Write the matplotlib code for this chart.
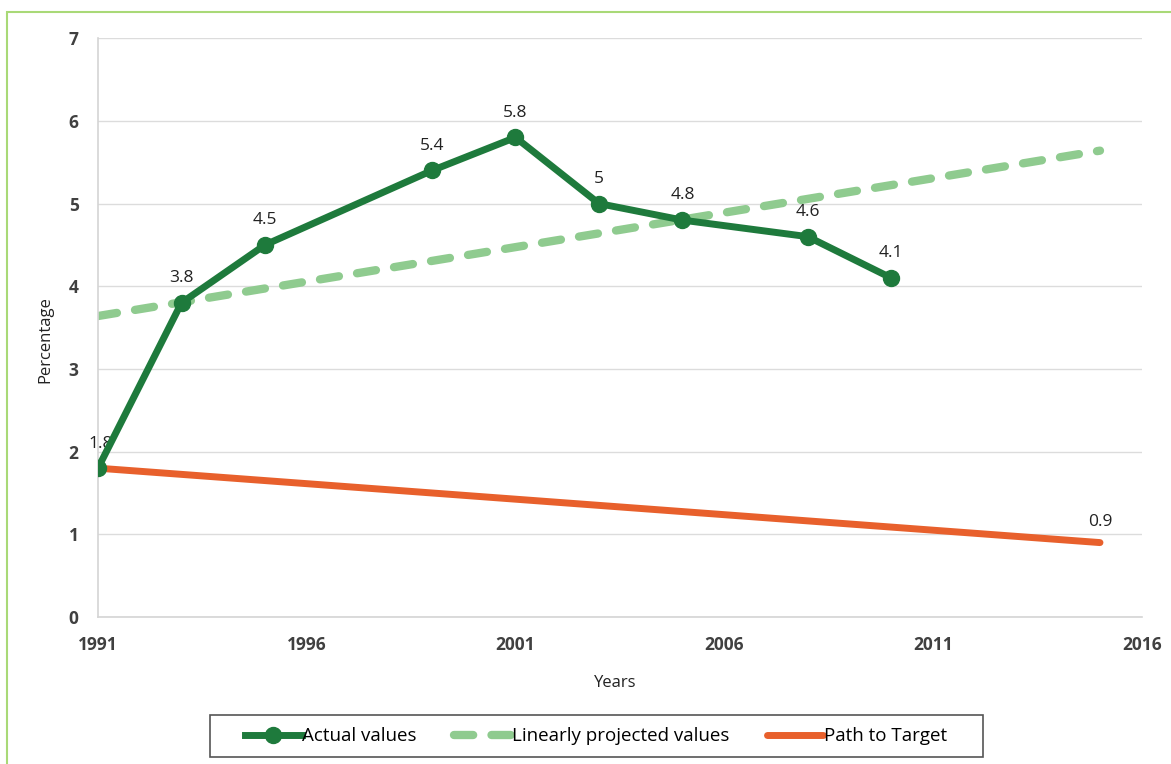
import matplotlib.pyplot as plt
import matplotlib.patches as patches

# data
actual_years = [1991, 1993, 1995, 1999, 2001, 2003, 2005, 2008, 2010]
actual_values = [1.8, 3.8, 4.5, 5.4, 5.8, 5.0, 4.8, 4.6, 4.1]
actual_labels = ['1.8', '3.8', '4.5', '5.4', '5.8', '5', '4.8', '4.6', '4.1']

proj_years = [1991, 2015]
proj_values = [3.64, 5.64]

target_years = [1991, 2015]
target_values = [1.8, 0.9]

x_ticks = [1991, 1996, 2001, 2006, 2011, 2016]
y_ticks = [0, 1, 2, 3, 4, 5, 6, 7]

dark_green = '#1e7a3c'
light_green = '#8fcb8f'
orange = '#e8602c'
text_color = '#404040'

plt.rcParams['font.family'] = ['Open Sans', 'DejaVu Sans']

fig = plt.figure(figsize=(11.71, 7.64), dpi=100)
ax = fig.add_axes([0.0837, 0.1924, 0.8913, 0.7576])

# outer light green frame
fig.patches.append(patches.Rectangle((0.006, -0.01), 1.0, 0.994,
                                     transform=fig.transFigure, fill=False,
                                     edgecolor='#a9d977', linewidth=1.5))
# legend box, drawn by hand so it can be wider than the legend entries
fig.patches.append(patches.Rectangle((210 / 1171, 1 - 757 / 764), 773 / 1171, 42 / 764,
                                     transform=fig.transFigure, fill=False,
                                     edgecolor='#555555', linewidth=1.2))

ax.plot(proj_years, proj_values, color=light_green, linewidth=6,
        linestyle=(0, (2.3, 2.2)), dash_capstyle='round',
        label='Linearly projected values', zorder=2)
ax.plot(target_years, target_values, color=orange, linewidth=5,
        solid_capstyle='round', label='Path to Target', zorder=3)
ax.plot(actual_years, actual_values, color=dark_green, linewidth=5,
        marker='o', markersize=11.5, label='Actual values', zorder=4)

for x, y, s in zip(actual_years, actual_values, actual_labels):
    dx = 2 if x == 1991 else 0
    ax.annotate(s, (x, y), xytext=(dx, 12), textcoords='offset points',
                ha='center', va='bottom', fontsize=12.5, color='#222222')
ax.annotate('0.9', (target_years[-1], target_values[-1]), xytext=(0, 9),
            textcoords='offset points', ha='center', va='bottom',
            fontsize=12.5, color='#222222')

ax.set_xlim(1991, 2016)
ax.set_ylim(0, 7)
ax.set_xticks(x_ticks)
ax.set_yticks(y_ticks)
ax.tick_params(length=0, labelsize=12.5, labelcolor=text_color)
ax.xaxis.set_tick_params(pad=14)
ax.yaxis.set_tick_params(pad=14)
for lbl in ax.get_xticklabels() + ax.get_yticklabels():
    lbl.set_fontweight('bold')
ax.grid(axis='y', color='#dcdcdc', linewidth=1)
ax.set_axisbelow(True)
for side in ['top', 'right']:
    ax.spines[side].set_visible(False)
for side in ['left', 'bottom']:
    ax.spines[side].set_color('#d4d4d4')
    ax.spines[side].set_linewidth(1.2)

ax.set_xlabel('Years', fontsize=12, color='#222222')
ax.xaxis.set_label_coords(0.4957, -0.1)
ax.set_ylabel('Percentage', fontsize=12, color='#222222')
ax.yaxis.set_label_coords(-0.043, 0.48)

handles, labels = ax.get_legend_handles_labels()
order = [2, 0, 1]
leg = ax.legend([handles[i] for i in order], [labels[i] for i in order],
                loc='center', bbox_to_anchor=(0.4772, -0.206), ncol=3,
                frameon=False, fontsize=13.5, handlelength=3.0,
                handletextpad=0.05, columnspacing=2.0, borderpad=0.3,
                borderaxespad=0)

fig.savefig('out.png', dpi=100)
